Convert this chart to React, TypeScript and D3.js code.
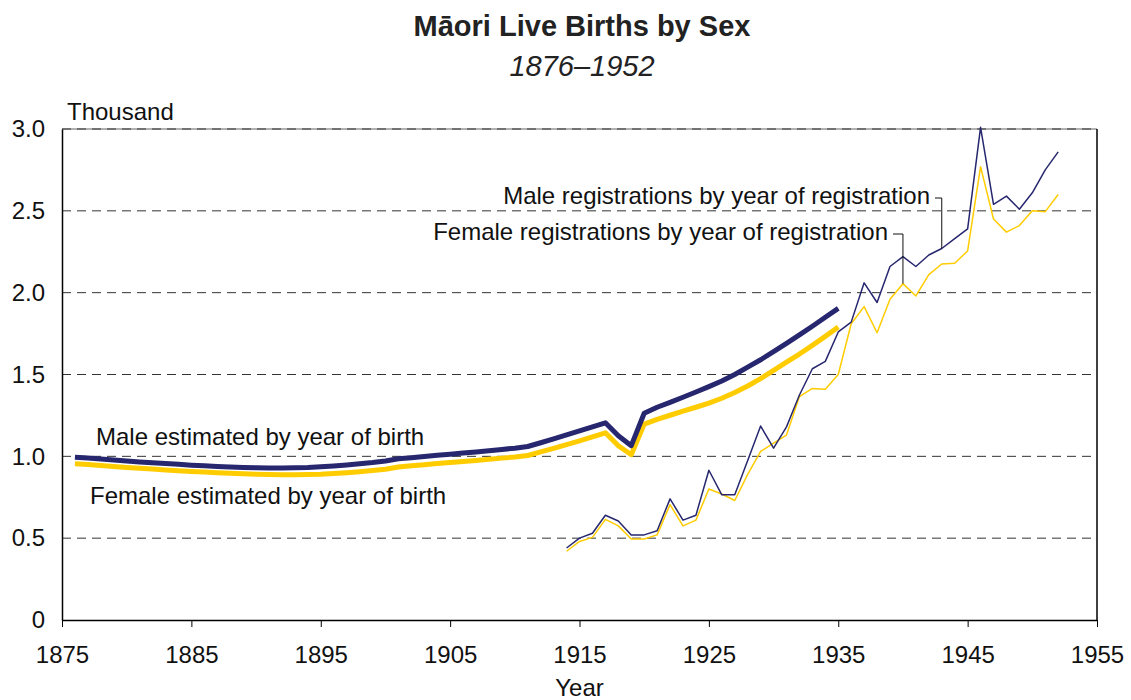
import React, { useRef, useEffect } from 'react';
import * as d3 from 'd3';

// estimated births by year of birth (thousand)
const estYears = [
  1876, 1877, 1878, 1879, 1880, 1881, 1882, 1883, 1884, 1885,
  1886, 1887, 1888, 1889, 1890, 1891, 1892, 1893, 1894, 1895,
  1896, 1897, 1898, 1899, 1900, 1901, 1902, 1903, 1904, 1905,
  1906, 1907, 1908, 1909, 1910, 1911, 1912, 1913, 1914, 1915,
  1916, 1917, 1918, 1919, 1920, 1921, 1922, 1923, 1924, 1925,
  1926, 1927, 1928, 1929, 1930, 1931, 1932, 1933, 1934, 1935,
];
const maleEst = [
  0.995, 0.99, 0.984, 0.978, 0.972, 0.966, 0.961, 0.956, 0.951, 0.946,
  0.942, 0.938, 0.935, 0.932, 0.93, 0.929, 0.929, 0.93, 0.932, 0.936,
  0.941, 0.947, 0.954, 0.962, 0.972, 0.985, 0.992, 0.999, 1.006, 1.013,
  1.02, 1.027, 1.034, 1.042, 1.05, 1.06, 1.083, 1.107, 1.131, 1.155,
  1.18, 1.205, 1.126, 1.065, 1.263, 1.3, 1.33, 1.361, 1.393, 1.426,
  1.46, 1.5, 1.545, 1.59, 1.64, 1.69, 1.742, 1.795, 1.85, 1.904,
];
const femaleEst = [
  0.955, 0.95, 0.944, 0.938, 0.932, 0.927, 0.922, 0.917, 0.912, 0.908,
  0.904, 0.9, 0.897, 0.894, 0.891, 0.889, 0.888, 0.888, 0.889, 0.891,
  0.895, 0.9, 0.906, 0.913, 0.921, 0.935, 0.942, 0.949, 0.956, 0.962,
  0.968, 0.975, 0.982, 0.989, 0.996, 1.005, 1.027, 1.049, 1.072, 1.095,
  1.119, 1.144, 1.065, 1.01, 1.197, 1.226, 1.251, 1.276, 1.3, 1.325,
  1.355, 1.39, 1.43, 1.475, 1.525, 1.575, 1.625, 1.678, 1.733, 1.79,
];

// registrations by year of registration (thousand)
const regYears = [
  1914, 1915, 1916, 1917, 1918, 1919, 1920, 1921, 1922, 1923,
  1924, 1925, 1926, 1927, 1928, 1929, 1930, 1931, 1932, 1933,
  1934, 1935, 1936, 1937, 1938, 1939, 1940, 1941, 1942, 1943,
  1944, 1945, 1946, 1947, 1948, 1949, 1950, 1951, 1952,
];
const maleReg = [
  0.44, 0.5, 0.53, 0.64, 0.605, 0.52, 0.52, 0.545, 0.74, 0.61,
  0.64, 0.915, 0.765, 0.765, 0.975, 1.185, 1.05, 1.18, 1.375, 1.535,
  1.58, 1.76, 1.82, 2.06, 1.94, 2.16, 2.22, 2.16, 2.23, 2.27,
  2.33, 2.39, 3.01, 2.54, 2.59, 2.51, 2.61, 2.75, 2.86,
];
const femaleReg = [
  0.42, 0.48, 0.505, 0.615, 0.575, 0.495, 0.495, 0.52, 0.705, 0.575,
  0.61, 0.8, 0.77, 0.73, 0.89, 1.03, 1.08, 1.13, 1.365, 1.415,
  1.41, 1.5, 1.81, 1.915, 1.755, 1.96, 2.055, 1.98, 2.11, 2.175,
  2.18, 2.255, 2.77, 2.45, 2.37, 2.41, 2.5, 2.495, 2.6,
];

const xTicks = [1875, 1885, 1895, 1905, 1915, 1925, 1935, 1945, 1955];
const yTicks = [0, 0.5, 1, 1.5, 2, 2.5, 3];

const NAVY = '#27276f';
const GOLD = '#ffcc00';
const FONT = 'Arial, "Liberation Sans", sans-serif';
const FS = 24;

const App = () => {
  const svgRef = useRef(null);

  useEffect(() => {
    const svg = d3.select(svgRef.current);
    svg.selectAll('*').remove();

    const width = 1131;
    const height = 700;
    const margin = { top: 129, right: 34, bottom: 80, left: 62 };

    const x = d3.scaleLinear()
      .domain([1875, 1955])
      .range([margin.left, width - margin.right]);
    const y = d3.scaleLinear()
      .domain([0, 3])
      .range([height - margin.bottom, margin.top]);

    // title
    svg.append('text')
      .attr('x', 582).attr('y', 36)
      .attr('text-anchor', 'middle')
      .attr('font-size', 29).attr('font-weight', 'bold')
      .attr('fill', '#222')
      .text('Māori Live Births by Sex');
    svg.append('text')
      .attr('x', 582).attr('y', 76)
      .attr('text-anchor', 'middle')
      .attr('font-size', 29).attr('font-style', 'italic')
      .attr('fill', '#222')
      .text('1876–1952');

    // top frame, then dashed gridlines
    svg.append('line')
      .attr('x1', x(1875)).attr('x2', x(1955))
      .attr('y1', y(3)).attr('y2', y(3))
      .attr('stroke', '#999').attr('stroke-width', 1.5);
    svg.append('g')
      .selectAll('line')
      .data(yTicks.filter(d => d > 0))
      .join('line')
      .attr('x1', x(1875)).attr('x2', x(1955))
      .attr('y1', d => y(d)).attr('y2', d => y(d))
      .attr('stroke', '#333')
      .attr('stroke-width', 1)
      .attr('stroke-dasharray', '9,6');
    svg.append('line')
      .attr('x1', x(1955)).attr('x2', x(1955))
      .attr('y1', y(3)).attr('y2', y(0))
      .attr('stroke', '#000').attr('stroke-width', 1.5);

    // axes
    const xAxis = svg.append('g')
      .attr('transform', `translate(0,${y(0)})`)
      .call(d3.axisBottom(x).tickValues(xTicks).tickFormat(d3.format('d'))
        .tickSize(7).tickSizeOuter(0).tickPadding(19));
    xAxis.select('.domain').attr('stroke', '#000').attr('stroke-width', 1.5);
    xAxis.selectAll('.tick line').attr('stroke', '#000');
    xAxis.selectAll('text')
      .attr('font-size', FS).attr('font-family', FONT).attr('fill', '#111');

    const yAxis = svg.append('g')
      .attr('transform', `translate(${x(1875)},0)`)
      .call(d3.axisLeft(y).tickValues(yTicks)
        .tickFormat(d => (d === 0 ? '0' : d3.format('.1f')(d)))
        .tickSize(0).tickPadding(17));
    yAxis.select('.domain').attr('stroke', '#000').attr('stroke-width', 1.5);
    yAxis.selectAll('text')
      .attr('font-size', FS).attr('font-family', FONT).attr('fill', '#111');

    svg.append('text')
      .attr('x', 67).attr('y', 120)
      .attr('font-size', FS).attr('fill', '#111')
      .text('Thousand');
    svg.append('text')
      .attr('x', x(1915)).attr('y', 696)
      .attr('text-anchor', 'middle')
      .attr('font-size', FS).attr('fill', '#111')
      .text('Year');

    const line = d3.line()
      .x(d => x(d[0]))
      .y(d => y(d[1]));

    const series = [
      { years: regYears, values: femaleReg, color: GOLD, w: 1.5 },
      { years: regYears, values: maleReg, color: NAVY, w: 1.5 },
      { years: estYears, values: femaleEst, color: GOLD, w: 5 },
      { years: estYears, values: maleEst, color: NAVY, w: 5 },
    ];
    series.forEach(s => {
      svg.append('path')
        .datum(s.years.map((yr, i) => [yr, s.values[i]]))
        .attr('fill', 'none')
        .attr('stroke', s.color)
        .attr('stroke-width', s.w)
        .attr('stroke-linejoin', 'round')
        .attr('d', line);
    });

    // series labels
    const labels = svg.append('g').attr('font-size', FS).attr('fill', '#111');
    labels.append('text')
      .attr('x', 96).attr('y', 445)
      .text('Male estimated by year of birth');
    labels.append('text')
      .attr('x', 90).attr('y', 504)
      .text('Female estimated by year of birth');

    const leader = (text, textEnd, baseline, year, value) => {
      labels.append('text')
        .attr('x', textEnd).attr('y', baseline)
        .attr('text-anchor', 'end')
        .text(text);
      svg.append('path')
        .attr('fill', 'none')
        .attr('stroke', '#111')
        .attr('stroke-width', 1)
        .attr('d', `M${textEnd + 5},${baseline - 6}H${x(year)}V${y(value)}`);
    };
    leader('Male registrations by year of registration', 930, 204,
      regYears[29], maleReg[29]);
    leader('Female registrations by year of registration', 888, 240,
      regYears[26], femaleReg[26]);
  }, []);

  return (
    <svg
      ref={svgRef}
      width={1131}
      height={700}
      style={{ position: 'absolute', left: 0, top: 0, fontFamily: FONT, background: '#fff' }}
    />
  );
};

export default App;
